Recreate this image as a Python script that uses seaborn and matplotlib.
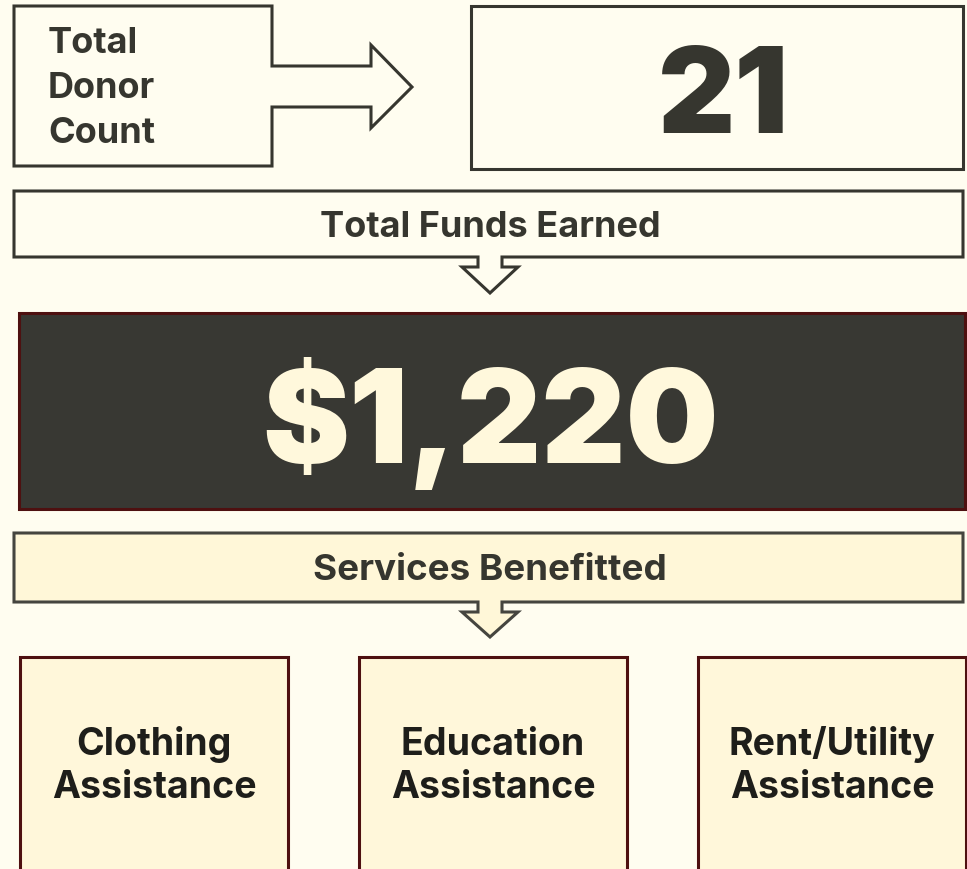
import matplotlib
matplotlib.use("Agg")
import matplotlib.pyplot as plt
import seaborn as sns
from matplotlib.patches import Polygon, Rectangle

# data
donor_label = ["Total", "Donor", "Count"]
donor_count = 21
funds_label = "Total Funds Earned"
funds_total = 1220
services_label = "Services Benefitted"
services = [["Clothing", "Assistance"], ["Education", "Assistance"], ["Rent/Utility", "Assistance"]]

# colours
bg = "#FFFDF0"
dark = "#36362F"
red_edge = "#4E1010"
cream = "#FFF8DC"
box_fill = "#FFF7DA"

sns.set_theme(style="white")
plt.rcParams['font.family'] = ['Inter', 'DejaVu Sans']

fig = plt.figure(figsize=(9.67, 8.69), dpi=100, facecolor=bg)
ax = fig.add_axes([0, 0, 1, 1])
ax.set_xlim(0, 967)
ax.set_ylim(869, 0)
ax.axis("off")
ax.set_facecolor(bg)

lw = 2.2

# donor box with arrow pointing right
donor_shape = [(14, 6), (272, 6), (272, 66), (371, 66), (371, 45), (412, 87),
               (371, 128), (371, 107), (272, 107), (272, 166), (14, 166)]
ax.add_patch(Polygon(donor_shape, closed=True, fc=bg, ec=dark, lw=lw))
for i, word in enumerate(donor_label):
    ax.text(48, 53 + 45 * i, word, ha="left", va="baseline", fontsize=26,
            fontweight="bold", color=dark)

# donor count box
ax.add_patch(Rectangle((471, 6), 492, 163, fc=bg, ec=dark, lw=lw))
ax.text(723, 133, str(donor_count), ha="center", va="baseline", fontsize=86,
        fontweight="black", color=dark)

# funds bar with arrow down
funds_shape = [(14, 191), (963, 191), (963, 257), (502, 257), (502, 267), (518, 267),
               (490, 293), (462, 267), (478, 267), (478, 257), (14, 257)]
ax.add_patch(Polygon(funds_shape, closed=True, fc=bg, ec=dark, lw=lw))
ax.text(490, 237, funds_label, ha="center", va="baseline", fontsize=26,
        fontweight="bold", color=dark)

# big total
ax.add_patch(Rectangle((19, 313), 946, 196, fc="#383833", ec=red_edge, lw=lw))
ax.text(490, 463, f"${funds_total:,}", ha="center", va="baseline", fontsize=94,
        fontweight="black", color=cream)

# services bar with arrow down
serv_shape = [(14, 533), (963, 533), (963, 602), (502, 602), (502, 612), (518, 612),
              (490, 637), (462, 612), (478, 612), (478, 602), (14, 602)]
ax.add_patch(Polygon(serv_shape, closed=True, fc="#FFF7D8", ec="#45453F", lw=lw))
ax.text(490, 580, services_label, ha="center", va="baseline", fontsize=26.5,
        fontweight="bold", color=dark)

# service boxes
box_left = [20, 359, 698]
for x0, lines in zip(box_left, services):
    ax.add_patch(Rectangle((x0, 657), 268, 230, fc=box_fill, ec=red_edge, lw=lw))
    for j, line in enumerate(lines):
        ax.text(x0 + 134, 755 + 43 * j, line, ha="center", va="baseline", fontsize=27,
                fontweight="bold", color="#1E1E1A")

fig.savefig("out.png", dpi=100, facecolor=bg)
